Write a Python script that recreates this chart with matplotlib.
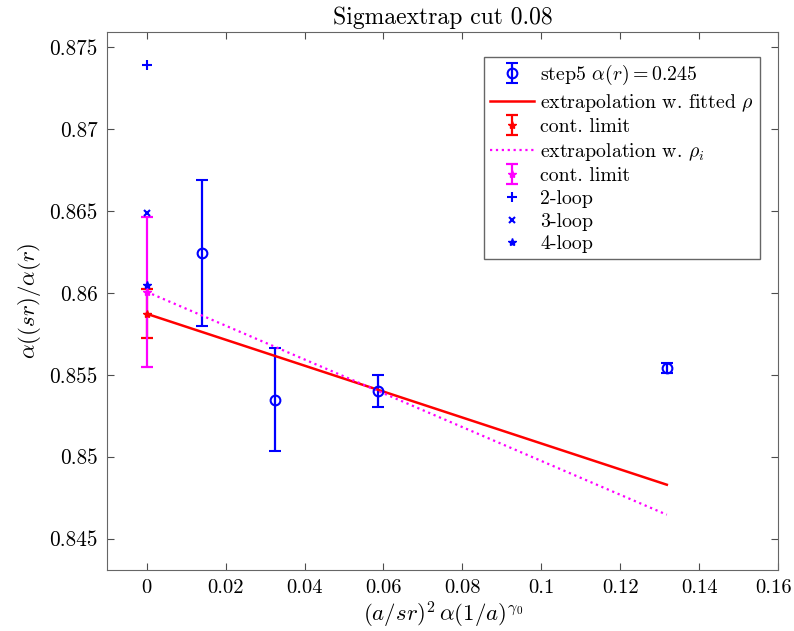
import matplotlib
matplotlib.use('Agg')
import matplotlib.pyplot as plt
from matplotlib.ticker import FuncFormatter
from matplotlib.transforms import ScaledTranslation

plt.rcParams['font.family'] = 'serif'
plt.rcParams['font.serif'] = ['cmr10', 'DejaVu Serif']
plt.rcParams['mathtext.fontset'] = 'cm'
plt.rcParams['axes.formatter.use_mathtext'] = True

# step5 measurements
x_step = [0.0140, 0.0326, 0.0587, 0.1318]
y_step = [0.86244, 0.85348, 0.85402, 0.85543]
err_step = [0.00445, 0.00315, 0.00097, 0.00030]

# continuum extrapolations (line endpoints)
x_fit = [0.0, 0.1318]
y_fit = [0.85872, 0.84829]
y_rho = [0.86006, 0.84646]

# continuum limits
cont_fit, cont_fit_err = 0.85872, 0.00150
cont_rho, cont_rho_err = 0.86006, 0.00458

# perturbative values at x = 0
loop2 = 0.87390
loop3 = 0.86488
loop4 = 0.86049

xticks = [0, 0.02, 0.04, 0.06, 0.08, 0.1, 0.12, 0.14, 0.16]
yticks = [0.845, 0.85, 0.855, 0.86, 0.865, 0.87, 0.875]

fig = plt.figure(figsize=(7.94, 6.31), dpi=100)
ax = fig.add_axes([0.135, 0.097, 0.845, 0.852])

h = []
h.append(ax.errorbar(x_step, y_step, yerr=err_step, fmt='o', color='blue', mfc='none',
                     ms=7, mew=1.5, elinewidth=1.6, capsize=4, capthick=1.6,
                     label=r'step5 $\alpha(r) = 0.245$'))
h += ax.plot(x_fit, y_fit, '-', color='red', lw=1.8, label=r'extrapolation w. fitted $\rho$')
h.append(ax.errorbar([0], [cont_fit], yerr=[cont_fit_err], fmt='*', color='red', ms=6,
                     elinewidth=1.6, capsize=4, capthick=1.6, label='cont. limit'))
h += ax.plot(x_fit, y_rho, ':', color='magenta', lw=1.6, label=r'extrapolation w. $\rho_i$')
h.append(ax.errorbar([0], [cont_rho], yerr=[cont_rho_err], fmt='*', color='magenta', ms=6,
                     elinewidth=1.6, capsize=4, capthick=1.6, label='cont. limit'))
h += ax.plot([0], [loop2], '+', color='blue', ms=7, mew=1.5, label='2-loop')
h += ax.plot([0], [loop3], 'x', color='blue', ms=5, mew=1.5, label='3-loop')
h += ax.plot([0], [loop4], '*', color='blue', ms=6, label='4-loop')

ax.set_xlim(-0.01, 0.16)
ax.set_ylim(0.8431, 0.8759)
ax.set_xticks(xticks)
ax.set_yticks(yticks)
fmt = FuncFormatter(lambda v, p: '%g' % round(v, 4))
ax.xaxis.set_major_formatter(fmt)
ax.yaxis.set_major_formatter(fmt)
ax.tick_params(direction='in', top=True, right=True, length=5,
               color='0.3', pad=7)
ax.tick_params(axis='y', labelsize=15.3)
ax.tick_params(axis='x', labelsize=14.8)
for s in ax.spines.values():
    s.set_color('0.4')

# keep the last x tick label inside the figure edge
last = ax.xaxis.get_major_ticks()[-1].label1
last.set_transform(last.get_transform() + ScaledTranslation(-0.05, 0, fig.dpi_scale_trans))

ax.set_title('Sigmaextrap cut 0.08', fontsize=17, pad=6)
ax.set_xlabel(r'$(a/sr)^2\,\alpha(1/a)^{\gamma_0}$', fontsize=16.5, labelpad=2)
ax.set_ylabel(r'$\alpha((sr)/\alpha(r)$', fontsize=16.5, labelpad=4)

leg = ax.legend(handles=h, loc='upper right', bbox_to_anchor=(0.973, 0.9535),
                borderaxespad=0, fontsize=14.3, fancybox=False, framealpha=1,
                edgecolor='0.4', handlelength=2.25,
                handletextpad=0.3, labelspacing=0.23, borderpad=0.3)

fig.savefig('out.png', dpi=100)
